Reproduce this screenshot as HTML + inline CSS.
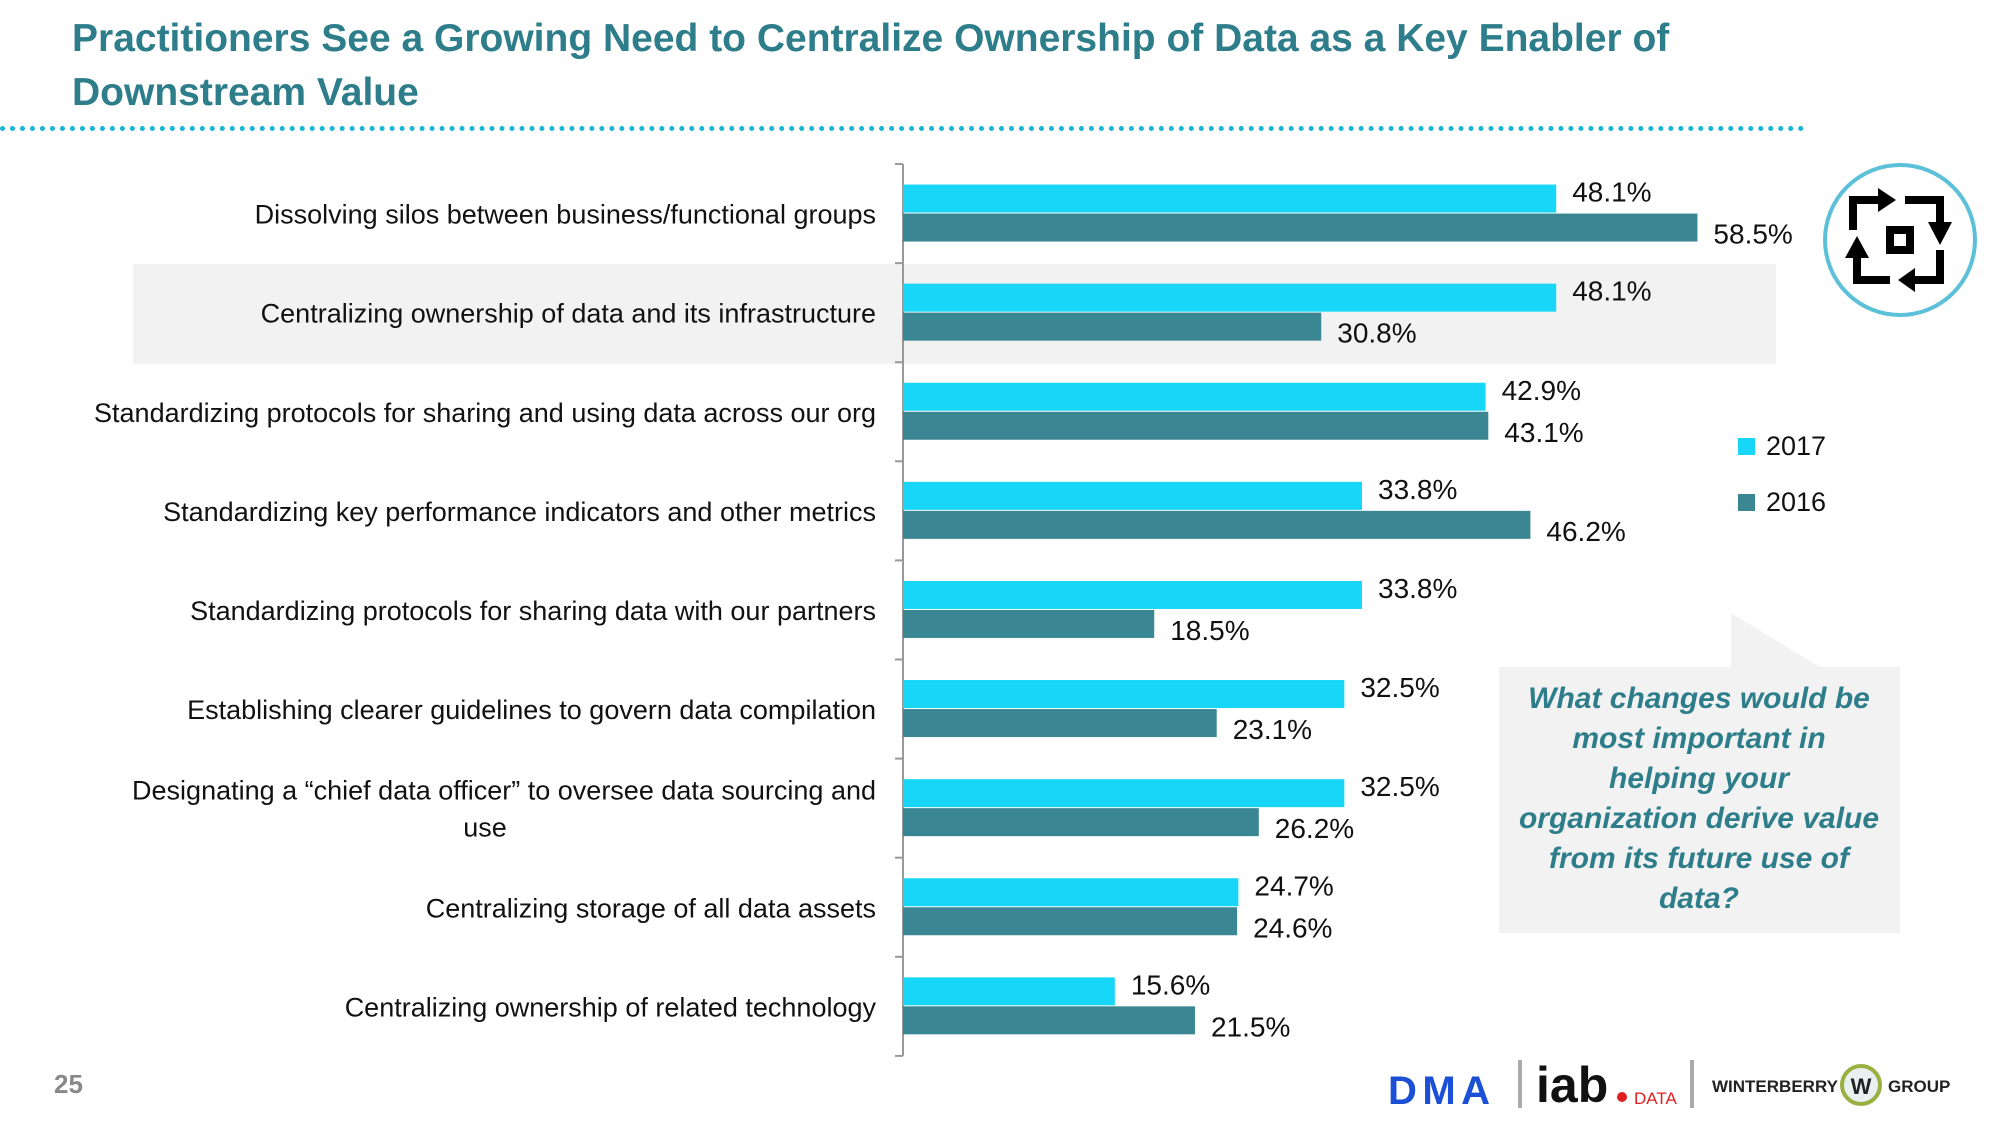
<!DOCTYPE html>
<html><head><meta charset="utf-8"><style>
body{margin:0;width:2000px;height:1126px;background:#fff;overflow:hidden;font-family:"Liberation Sans",sans-serif;position:relative}
.title{position:absolute;left:72px;top:12px;font-size:39px;font-weight:bold;color:#2d7d8a;line-height:54px}
.dots{position:absolute;left:0;top:126px;width:1805px;border-top:5px dotted #17b6d6}
</style></head><body>
<div class="title">Practitioners See a Growing Need to Centralize Ownership of Data as a Key Enabler of<br>Downstream Value</div>
<div class="dots"></div>
<svg id="chart" width="2000" height="1126" style="position:absolute;left:0;top:0"></svg>
<script>
const categories=["Dissolving silos between business/functional groups","Centralizing ownership of data and its infrastructure","Standardizing protocols for sharing and using data across our org","Standardizing key performance indicators and other metrics","Standardizing protocols for sharing data with our  partners","Establishing clearer guidelines to govern data compilation","Designating a \u201cchief data officer\u201d to oversee data sourcing and|use","Centralizing storage of all data assets","Centralizing ownership of related technology"];
const values2017=[48.1,48.1,42.9,33.8,33.8,32.5,32.5,24.7,15.6];
const values2016=[58.5,30.8,43.1,46.2,18.5,23.1,26.2,24.6,21.5];
const seriesNames=["2017","2016"];
const NS="http://www.w3.org/2000/svg";
const svg=document.getElementById('chart');
const x0=903,pxPer=13.58,top0=164,band=99.1,barH=28;
const xs=v=>x0+v*pxPer;
const yc=i=>top0+band*(i+0.5);
function mk(t,a,txt){const e=document.createElementNS(NS,t);for(const k in a)e.setAttribute(k,a[k]);if(txt!==undefined)e.textContent=txt;svg.appendChild(e);return e;}
let hl=mk('rect',{x:133,y:264,width:1643,height:100,fill:'#f2f2f2'});


let ax=mk('line',{x1:x0,y1:top0,x2:x0,y2:top0+band*categories.length,stroke:'#999','stroke-width':2});


for(let i=0;i<=categories.length;i++){
 let tk=mk('line',{x1:x0-8,y1:top0+band*i,x2:x0,y2:top0+band*i,stroke:'#999','stroke-width':2});
 
 
}
categories.forEach((c,i)=>{
 const lines=c.split('|');const cy=yc(i);
 lines.forEach((ln,j)=>{
  const y=cy+10+(j-(lines.length-1)/2)*37;
  const t=mk('text',{x:lines.length>1&&j==1?485:876,y:y,'text-anchor':lines.length>1&&j==1?'middle':'end','font-size':27,fill:'#111'},ln);
  
  
 });
 const b1=mk('rect',{x:x0,y:cy-barH-1,width:xs(values2017[i])-x0,height:barH,fill:'#17d6f7'});
 
 
 const b2=mk('rect',{x:x0,y:cy,width:xs(values2016[i])-x0,height:barH,fill:'#3a8693'});
 
 
 const l1=mk('text',{x:xs(values2017[i])+16,y:cy-12,'font-size':28,fill:'#111'},values2017[i].toFixed(1)+'%');
 
 
 const l2=mk('text',{x:xs(values2016[i])+16,y:cy+30,'font-size':28,fill:'#111'},values2016[i].toFixed(1)+'%');
 
 
});
const legColors=['#17d6f7','#3a8693'];
seriesNames.forEach((s,i)=>{
 const r=mk('rect',{x:1738,y:438+i*56,width:17,height:17,fill:legColors[i]});
 
 
 const t=mk('text',{x:1766,y:455+i*56,'font-size':27,fill:'#111'},s);
 
 
});
</script>
<svg width="2000" height="1126" style="position:absolute;left:0;top:0;pointer-events:none">
 <g>
  <circle cx="1900" cy="240" r="75" fill="#fff" stroke="#5bc0d8" stroke-width="4"/>
  <rect x="1886" y="226" width="28" height="28" fill="#000"/><rect x="1894" y="234" width="12" height="12" fill="#fff"/>
  <path d="M1853 230 V200 H1880" stroke="#000" stroke-width="8" fill="none"/><path d="M1878 188 L1896 200 L1878 212Z" fill="#000"/>
  <path d="M1905 200 H1940 V225" stroke="#000" stroke-width="8" fill="none"/><path d="M1928 222 L1940 245 L1952 222Z" fill="#000"/>
  <path d="M1940 250 V280 H1912" stroke="#000" stroke-width="8" fill="none"/><path d="M1915 268 L1898 280 L1915 292Z" fill="#000"/>
  <path d="M1890 280 H1857 V255" stroke="#000" stroke-width="8" fill="none"/><path d="M1845 258 L1857 236 L1869 258Z" fill="#000"/>
 </g>
 <g>
  <polygon points="1731,613 1731,667 1820,667" fill="#f2f2f2"/>
  <rect x="1499" y="667" width="401" height="266" fill="#f2f2f2"/>
  <g font-size="30" font-weight="bold" font-style="italic" fill="#2d7d8a" text-anchor="middle">
   <text x="1699" y="708">What changes would be</text>
   <text x="1699" y="748">most important in</text>
   <text x="1699" y="788">helping your</text>
   <text x="1699" y="828">organization derive value</text>
   <text x="1699" y="868">from its future use of</text>
   <text x="1699" y="908">data?</text>
  </g>
 </g>
 <text x="54" y="1093" font-size="26" fill="#888" font-weight="bold">25</text>
 <g>
  <text x="1388" y="1104" font-size="40" font-weight="bold" fill="#1a4fd6" textLength="102">DMA</text>
  <rect x="1518" y="1060" width="4" height="48" fill="#aaa"/>
  <text x="1536" y="1102" font-size="50" font-weight="bold" fill="#111">iab</text>
  <circle cx="1622" cy="1097" r="5" fill="#e02020"/>
  <text x="1634" y="1104" font-size="17" fill="#e02020">DATA</text>
  <rect x="1690" y="1060" width="4" height="48" fill="#aaa"/>
  <text x="1712" y="1092" font-size="17" font-weight="bold" fill="#222">WINTERBERRY</text>
  <circle cx="1861" cy="1085" r="19" fill="#e8f0f0" stroke="#9ab040" stroke-width="4"/>
  <text x="1861" y="1094" font-size="22" font-weight="bold" fill="#222" text-anchor="middle">W</text>
  <text x="1888" y="1092" font-size="17" font-weight="bold" fill="#222">GROUP</text>
 </g>
</svg>
</body></html>
